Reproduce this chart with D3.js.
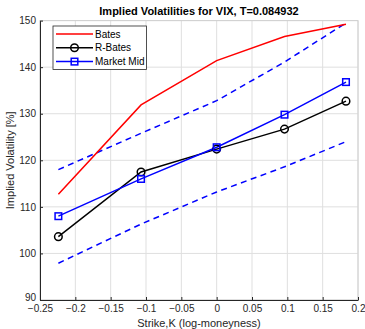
<!DOCTYPE html>
<html>
<head>
<meta charset="utf-8">
<script src="https://cdn.jsdelivr.net/npm/d3@7"></script>
<style>
body { margin: 0; background: #fff; }
text { font-family: "Liberation Sans", Arial, sans-serif; }
</style>
</head>
<body>
<script>
var w = 365;
var h = 329;

var margin = {
  top: 20.6,
  bottom: 29,
  left: 40,
  right: 7
}

var width = w - margin.left - margin.right
var height = h - margin.top - margin.bottom

// strikes (log-moneyness)
var strikes = [-0.224, -0.107, 0.0, 0.096, 0.183];
var bates = [112.7, 131.9, 141.4, 146.6, 149.2];
var rBates = [103.6, 117.5, 122.4, 126.7, 132.7];
var marketMid = [108.0, 116.0, 122.8, 129.8, 136.8];
var marketAsk = [118.0, 125.8, 132.8, 141.1, 149.5];
var marketBid = [97.9, 106.3, 113.2, 118.6, 124.0];

var xTicks = [-0.25, -0.2, -0.15, -0.1, -0.05, 0, 0.05, 0.1, 0.15, 0.2];
var yTicks = [90, 100, 110, 120, 130, 140, 150];
var legendNames = ["Bates", "R-Bates", "Market Mid"];

var x = d3.scaleLinear()
  .domain([-0.25, 0.2])
  .range([0, width]);

var y = d3.scaleLinear()
  .domain([90, 150])
  .range([height, 0]);

var svg = d3.select("body").append("svg")
  .attr("width", w)
  .attr("height", h);

var chart = svg.append("g")
  .attr("transform", "translate(" + margin.left + "," + margin.top + ")");

// grid
chart.append("g").selectAll("line")
  .data(xTicks)
  .enter().append("line")
  .attr("x1", function (d) { return x(d); })
  .attr("x2", function (d) { return x(d); })
  .attr("y1", 0).attr("y2", height)
  .attr("stroke", "#dfdfdf").attr("stroke-width", 1);

chart.append("g").selectAll("line")
  .data(yTicks)
  .enter().append("line")
  .attr("y1", function (d) { return y(d); })
  .attr("y2", function (d) { return y(d); })
  .attr("x1", 0).attr("x2", width)
  .attr("stroke", "#dfdfdf").attr("stroke-width", 1);

// box top/right
chart.append("rect")
  .attr("x", 0).attr("y", 0)
  .attr("width", width).attr("height", height)
  .attr("fill", "none")
  .attr("stroke", "#d0d0d0");

// axes
var xAxis = chart.append("g")
  .attr("transform", "translate(0," + height + ")")
  .call(d3.axisBottom(x).tickValues(xTicks).tickSizeInner(-3).tickSizeOuter(0)
    .tickFormat(function (d) { return d3.format("")(+d.toFixed(2)); }));

var yAxis = chart.append("g")
  .call(d3.axisLeft(y).tickValues(yTicks).tickSizeInner(-3).tickSizeOuter(0));

[xAxis, yAxis].forEach(function (a) {
  a.select(".domain").attr("stroke", "#262626");
  a.selectAll(".tick line").attr("stroke", "#262626");
  a.selectAll(".tick text")
    .attr("fill", "#262626")
    .style("font-size", "10px")
    .style("font-family", "Liberation Sans, Arial, sans-serif");
});
xAxis.selectAll(".tick text").attr("dy", "0.9em").attr("y", 3);
yAxis.selectAll(".tick text").attr("x", -4);
// lowest label sits a little higher so it clears -0.25
yAxis.selectAll(".tick text").filter(function (d) { return d == 90; }).attr("y", -3);

// lines
var line = d3.line()
  .x(function (d) { return x(d[0]); })
  .y(function (d) { return y(d[1]); });

function pairs(vals) {
  return strikes.map(function (s, i) { return [s, vals[i]]; });
}

chart.append("path")
  .datum(pairs(marketAsk))
  .attr("d", line)
  .attr("fill", "none").attr("stroke", "#0000ff")
  .attr("stroke-width", 1.5).attr("stroke-dasharray", "6,4.5");

chart.append("path")
  .datum(pairs(marketBid))
  .attr("d", line)
  .attr("fill", "none").attr("stroke", "#0000ff")
  .attr("stroke-width", 1.5).attr("stroke-dasharray", "6,4.5");

chart.append("path")
  .datum(pairs(bates))
  .attr("d", line)
  .attr("fill", "none").attr("stroke", "#ff0000")
  .attr("stroke-width", 1.5);

chart.append("path")
  .datum(pairs(rBates))
  .attr("d", line)
  .attr("fill", "none").attr("stroke", "#000000")
  .attr("stroke-width", 1.5);

chart.append("path")
  .datum(pairs(marketMid))
  .attr("d", line)
  .attr("fill", "none").attr("stroke", "#0000ff")
  .attr("stroke-width", 1.5);

chart.append("g").selectAll("circle")
  .data(pairs(rBates))
  .enter().append("circle")
  .attr("cx", function (d) { return x(d[0]); })
  .attr("cy", function (d) { return y(d[1]); })
  .attr("r", 3.8)
  .attr("fill", "none").attr("stroke", "#000").attr("stroke-width", 1.5);

chart.append("g").selectAll("rect")
  .data(pairs(marketMid))
  .enter().append("rect")
  .attr("x", function (d) { return x(d[0]) - 3.3; })
  .attr("y", function (d) { return y(d[1]) - 3.3; })
  .attr("width", 6.6).attr("height", 6.6)
  .attr("fill", "none").attr("stroke", "#0000ff").attr("stroke-width", 1.5);

// legend
var legend = svg.append("g").attr("transform", "translate(53,26)");
legend.append("rect")
  .attr("x", 0).attr("y", 0)
  .attr("width", 93.5).attr("height", 43.5)
  .attr("fill", "#fff").attr("stroke", "#262626").attr("stroke-width", 0.8);

var legColors = ["#ff0000", "#000000", "#0000ff"];
legendNames.forEach(function (n, i) {
  var ly = 8 + i * 13.8;
  legend.append("line")
    .attr("x1", 3).attr("x2", 40).attr("y1", ly).attr("y2", ly)
    .attr("stroke", legColors[i]).attr("stroke-width", 1.5);
  if (i == 1) {
    legend.append("circle").attr("cx", 21.5).attr("cy", ly).attr("r", 3.8)
      .attr("fill", "none").attr("stroke", "#000").attr("stroke-width", 1.5);
  }
  if (i == 2) {
    legend.append("rect").attr("x", 18.2).attr("y", ly - 3.3)
      .attr("width", 6.6).attr("height", 6.6)
      .attr("fill", "none").attr("stroke", "#0000ff").attr("stroke-width", 1.5);
  }
  legend.append("text")
    .attr("x", 42).attr("y", ly + 3.5)
    .style("font-size", "10px")
    .attr("fill", "#000")
    .text(n);
});

// title and labels
svg.append("text")
  .attr("x", margin.left + width / 2).attr("y", 15)
  .attr("text-anchor", "middle")
  .style("font-size", "11px").style("font-weight", "bold")
  .attr("fill", "#000")
  .text("Implied Volatilities for VIX, T=0.084932");

svg.append("text")
  .attr("x", margin.left + width / 2).attr("y", 327)
  .attr("text-anchor", "middle")
  .style("font-size", "11px")
  .attr("fill", "#262626")
  .text("Strike,K (log-moneyness)");

svg.append("text")
  .attr("transform", "translate(14," + (margin.top + height / 2) + ") rotate(-90)")
  .attr("text-anchor", "middle")
  .style("font-size", "11px")
  .attr("fill", "#262626")
  .text("Implied Volatility [%]");
</script>
</body>
</html>
